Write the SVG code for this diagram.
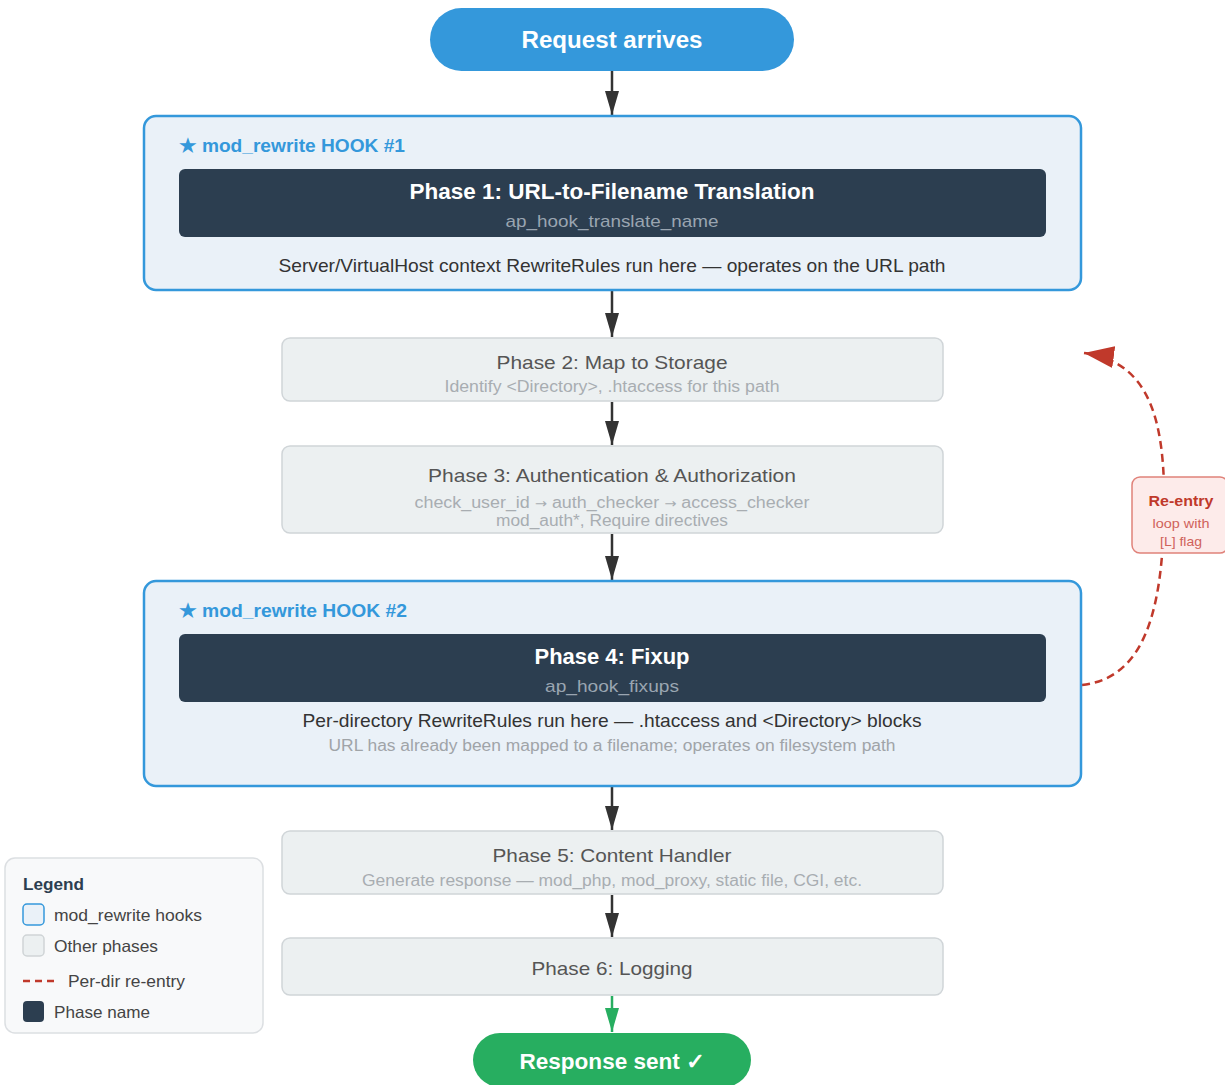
<svg xmlns="http://www.w3.org/2000/svg" width="1225" height="1085" viewBox="0 0 1225 1085">
<defs>
<marker id="ah" markerWidth="24" markerHeight="14" refX="24" refY="7" orient="auto" markerUnits="userSpaceOnUse" viewBox="0 0 24 14">
<path d="M0,0 L24,7 L0,14 Z" fill="#333"/>
</marker>
<marker id="ahg" markerWidth="24" markerHeight="14" refX="24" refY="7" orient="auto" markerUnits="userSpaceOnUse" viewBox="0 0 24 14">
<path d="M0,0 L24,7 L0,14 Z" fill="#27ae60"/>
</marker>
<marker id="ahr" markerWidth="30" markerHeight="22" refX="30" refY="11" orient="auto" markerUnits="userSpaceOnUse" viewBox="0 0 30 22">
<path d="M0,0 L30,11 L0,22 Z" fill="#c0392b"/>
</marker>
</defs>
<style>
text{font-family:"Liberation Sans",Arial,Helvetica,sans-serif;}
.hook{fill:#eaf1f8;stroke:#3498db;stroke-width:2.5;}
.dark{fill:#2c3e50;}
.other{fill:#ecf0f1;stroke:#d0d5d8;stroke-width:1.5;}
.hl{fill:#3498db;font-size:18.5px;font-weight:bold;}
.dt{fill:#ffffff;font-size:21.5px;font-weight:bold;text-anchor:middle;}
.ds{fill:#9aa5b1;font-size:17px;text-anchor:middle;}
.desc{fill:#333;font-size:18.5px;text-anchor:middle;}
.desc2{fill:#a0a4a8;font-size:16px;text-anchor:middle;}
.ot{fill:#555;font-size:19px;text-anchor:middle;}
.os{fill:#a8adb1;font-size:16px;text-anchor:middle;}
.ar{font-family:"DejaVu Sans",sans-serif;font-size:13px;}
.arrow{stroke:#333;stroke-width:2.5;fill:none;marker-end:url(#ah);}
.lg{fill:#444;font-size:16.5px;}
</style>
<rect width="1225" height="1085" fill="#ffffff"/>

<g id="connectors">
<line class="arrow" x1="612" y1="71" x2="612" y2="115"/>
<line class="arrow" x1="612" y1="291" x2="612" y2="337"/>
<line class="arrow" x1="612" y1="402" x2="612" y2="445"/>
<line class="arrow" x1="612" y1="534" x2="612" y2="580"/>
<line class="arrow" x1="612" y1="787" x2="612" y2="830"/>
<line class="arrow" x1="612" y1="895" x2="612" y2="937"/>
<line x1="612" y1="996" x2="612" y2="1032" stroke="#27ae60" stroke-width="2.5" marker-end="url(#ahg)"/>
<path d="M1082,685 C1145,678 1162,610 1164,515 C1166,420 1150,362 1084,353" fill="none" stroke="#c0392b" stroke-width="2.5" stroke-dasharray="8,5" marker-end="url(#ahr)"/>
</g>

<g id="request">
<rect x="430" y="8" width="364" height="63" rx="31.5" fill="#3498db"/>
<text x="612" y="48" fill="#fff" font-size="23" font-weight="bold" text-anchor="middle" textLength="181" lengthAdjust="spacingAndGlyphs">Request arrives</text>
</g>

<g id="hook1">
<rect class="hook" x="144" y="116" width="937" height="174" rx="12"/>
<text class="hl" x="179" y="152" textLength="226" lengthAdjust="spacingAndGlyphs">★ mod_rewrite HOOK #1</text>
<rect class="dark" x="179" y="169" width="867" height="68" rx="6"/>
<text class="dt" x="612" y="199" textLength="405" lengthAdjust="spacingAndGlyphs">Phase 1: URL-to-Filename Translation</text>
<text class="ds" x="612" y="227" textLength="213" lengthAdjust="spacingAndGlyphs">ap_hook_translate_name</text>
<text class="desc" x="612" y="272" textLength="667" lengthAdjust="spacingAndGlyphs">Server/VirtualHost context RewriteRules run here — operates on the URL path</text>
</g>

<g id="phase2">
<rect class="other" x="282" y="338" width="661" height="63" rx="8"/>
<text class="ot" x="612" y="369" textLength="231" lengthAdjust="spacingAndGlyphs">Phase 2: Map to Storage</text>
<text class="os" x="612" y="392" textLength="335" lengthAdjust="spacingAndGlyphs">Identify &lt;Directory&gt;, .htaccess for this path</text>
</g>

<g id="phase3">
<rect class="other" x="282" y="446" width="661" height="87" rx="8"/>
<text class="ot" x="612" y="482" textLength="368" lengthAdjust="spacingAndGlyphs">Phase 3: Authentication &amp; Authorization</text>
<text class="os" x="612" y="508" textLength="395" lengthAdjust="spacingAndGlyphs">check_user_id <tspan class="ar">→</tspan> auth_checker <tspan class="ar">→</tspan> access_checker</text>
<text class="os" x="612" y="526" textLength="232" lengthAdjust="spacingAndGlyphs">mod_auth*, Require directives</text>
</g>

<g id="hook2">
<rect class="hook" x="144" y="581" width="937" height="205" rx="12"/>
<text class="hl" x="179" y="617" textLength="228" lengthAdjust="spacingAndGlyphs">★ mod_rewrite HOOK #2</text>
<rect class="dark" x="179" y="634" width="867" height="68" rx="6"/>
<text class="dt" x="612" y="664" textLength="155" lengthAdjust="spacingAndGlyphs">Phase 4: Fixup</text>
<text class="ds" x="612" y="692" textLength="134" lengthAdjust="spacingAndGlyphs">ap_hook_fixups</text>
<text class="desc" x="612" y="727" textLength="619" lengthAdjust="spacingAndGlyphs">Per-directory RewriteRules run here — .htaccess and &lt;Directory&gt; blocks</text>
<text class="desc2" x="612" y="751" textLength="567" lengthAdjust="spacingAndGlyphs">URL has already been mapped to a filename; operates on filesystem path</text>
</g>

<g id="phase5">
<rect class="other" x="282" y="831" width="661" height="63" rx="8"/>
<text class="ot" x="612" y="862" textLength="239" lengthAdjust="spacingAndGlyphs">Phase 5: Content Handler</text>
<text class="os" x="612" y="886" textLength="500" lengthAdjust="spacingAndGlyphs">Generate response — mod_php, mod_proxy, static file, CGI, etc.</text>
</g>

<g id="phase6">
<rect class="other" x="282" y="938" width="661" height="57" rx="8"/>
<text class="ot" x="612" y="975" textLength="161" lengthAdjust="spacingAndGlyphs">Phase 6: Logging</text>
</g>

<g id="response">
<rect x="473" y="1033" width="278" height="54" rx="27" fill="#27ae60"/>
<text x="612" y="1069" fill="#fff" font-size="22" font-weight="bold" text-anchor="middle" textLength="185" lengthAdjust="spacingAndGlyphs">Response sent ✓</text>
</g>

<g id="reentry">
<rect x="1132" y="477" width="96" height="76" rx="8" fill="#fdebea" stroke="#e0827a" stroke-width="1.5"/>
<text x="1181" y="506" fill="#c0392b" font-size="14.5" font-weight="bold" text-anchor="middle" textLength="65" lengthAdjust="spacingAndGlyphs">Re-entry</text>
<text x="1181" y="528" fill="#d0625a" font-size="13" text-anchor="middle" textLength="57" lengthAdjust="spacingAndGlyphs">loop with</text>
<text x="1181" y="546" fill="#d0625a" font-size="13" text-anchor="middle" textLength="42" lengthAdjust="spacingAndGlyphs">[L] flag</text>
</g>

<g id="legend">
<rect x="5" y="858" width="258" height="175" rx="10" fill="#f8f9fa" stroke="#dcdfe2" stroke-width="1.5"/>
<text x="23" y="890" fill="#2c3e50" font-size="16.5" font-weight="bold" textLength="61" lengthAdjust="spacingAndGlyphs">Legend</text>
<rect x="23" y="904" width="21" height="21" rx="4" fill="#eaf1f8" stroke="#3498db" stroke-width="1.5"/>
<text class="lg" x="54" y="921" textLength="148" lengthAdjust="spacingAndGlyphs">mod_rewrite hooks</text>
<rect x="23" y="935" width="21" height="21" rx="4" fill="#ecf0f1" stroke="#cfd4d6" stroke-width="1.5"/>
<text class="lg" x="54" y="952" textLength="104" lengthAdjust="spacingAndGlyphs">Other phases</text>
<line x1="23" y1="981" x2="57" y2="981" stroke="#c0392b" stroke-width="2.5" stroke-dasharray="7,5"/>
<text class="lg" x="68" y="987" textLength="117" lengthAdjust="spacingAndGlyphs">Per-dir re-entry</text>
<rect x="23" y="1001" width="21" height="21" rx="4" fill="#2c3e50"/>
<text class="lg" x="54" y="1018" textLength="96" lengthAdjust="spacingAndGlyphs">Phase name</text>
</g>
</svg>
